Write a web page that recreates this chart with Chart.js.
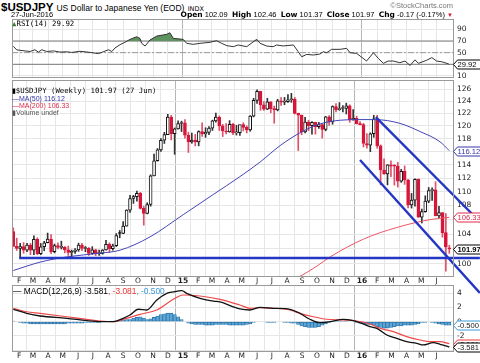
<!DOCTYPE html>
<html>
<head>
<meta charset="utf-8">
<script src="https://cdn.jsdelivr.net/npm/chart.js@4.4.0/dist/chart.umd.min.js"></script>
<style>
  body { margin: 0; background: #fff; width: 480px; height: 363px; overflow: hidden; position: relative; font-family: "Liberation Sans", Arial, sans-serif; }
  canvas { position: absolute; left: 0; }
  .t { position: absolute; white-space: nowrap; color: #000; line-height: 1; }
  .mono { font-family: "DejaVu Sans Mono", monospace; }
  .b { font-family: "DejaVu Sans", sans-serif; font-weight: bold; }
</style>
</head>
<body>
<canvas id="rsi" width="480" height="64" style="top:15px;width:480px;height:64px"></canvas>
<canvas id="price" width="480" height="216" style="top:79px;width:480px;height:216px"></canvas>
<canvas id="macd" width="480" height="79" style="top:284px;width:480px;height:79px"></canvas>

<div class="t" style="left:1px;top:2px;font-size:11.5px;font-weight:bold">$USDJPY <span style="font-size:8.5px;font-weight:normal">US Dollar to Japanese Yen (EOD)</span> <span style="font-size:6.5px;font-weight:normal;font-family:'DejaVu Sans'">INDX</span></div>
<div class="t" style="right:27px;top:2px;font-size:7.5px;color:#777">&copy;StockCharts.com</div>
<div class="t" style="left:11px;top:11px;font-size:7.5px">27-Jun-2016</div>
<div class="t" style="right:27px;top:11px;font-size:7.5px"><span class="b">Open</span> 102.09 &nbsp;<span class="b">High</span> 102.46 &nbsp;<span class="b">Low</span> 101.37 &nbsp;<span class="b">Close</span> 101.97 &nbsp;<span class="b">Chg</span> -0.17 (-0.17%) <span style="color:#d8163a;font-size:6px">&#9660;</span></div>

<div class="t mono" style="left:12px;top:20px;font-size:7.4px"><span style="color:#3c7a3c">&#9650;</span>RSI(14) 29.92</div>

<div class="t mono" style="left:12px;top:87px;font-size:7.3px"><span style="font-family:'DejaVu Sans';font-size:7px">&#9646;</span>$USDJPY (Weekly) 101.97 (27 Jun)</div>
<div class="t" style="left:12px;top:95px;font-size:7px;color:#3535a8">&#8212;MA(50) 116.12</div>
<div class="t" style="left:12px;top:102px;font-size:7px;color:#e02a48">&#8212;MA(200) 106.33</div>
<div class="t" style="left:12px;top:109px;font-size:7px;color:#555">&#9646;Volume undef</div>

<div class="t" style="left:13px;top:287px;font-size:8.4px">&#8212; MACD(12,26,9) -3.581<span style="color:#f03535">, -3.081</span><span style="color:#3a9ad9">, -0.500</span></div>

<script>
// weekly candles, week of 20 Jan 2014 up to week of 27 Jun 2016
const opens = [104.35,102.32,102.04,102.30,101.80,102.50,101.79,103.28,101.32,102.26,
  102.81,103.29,101.61,102.43,102.17,102.18,101.85,101.49,101.63,101.82,
  102.50,102.03,102.05,101.36,101.85,101.33,101.36,101.82,102.59,102.00,
  102.40,104.15,104.07,105.10,107.34,109.00,109.27,109.74,107.60,106.88,
  108.14,112.32,114.59,116.24,117.74,118.62,121.42,118.78,119.53,120.38,
  120.48,118.53,117.49,117.75,117.47,119.11,118.74,118.98,119.64,120.80,
  121.40,120.01,119.19,119.03,120.25,118.90,118.94,120.21,119.75,119.35,
  121.55,124.13,125.60,123.39,122.68,123.86,122.78,122.58,124.03,123.81,
  123.91,124.22,124.33,122.00,121.73,119.03,120.59,120.04,120.56,119.88,
  120.22,119.42,121.45,120.61,123.11,122.60,122.79,122.82,123.23,120.95,
  121.19,120.36,120.21,117.23,116.96,118.76,121.13,116.86,113.20,112.60,
  113.97,113.78,113.77,111.55,113.00,111.70,108.07,108.77,111.80,106.33,
  107.12,108.63,110.15,110.25,106.53,107.00,104.20,102.09];
const highs = [104.85,103.43,102.72,102.83,102.71,102.72,103.76,103.48,102.71,103.00,
  104.13,103.93,102.63,102.80,103.02,102.30,102.36,101.82,102.02,102.75,
  102.72,102.30,102.16,102.27,101.93,101.81,101.89,103.15,102.80,102.63,
  104.06,104.49,105.71,107.39,109.45,109.46,110.09,109.90,107.90,108.39,
  112.47,115.59,116.45,118.00,118.98,121.85,121.69,119.67,120.82,120.75,
  121.00,119.00,118.86,118.66,119.22,120.48,119.70,119.90,120.91,122.03,
  121.58,120.24,120.36,120.84,120.40,120.10,120.05,120.50,120.00,121.64,
  124.46,125.86,125.62,123.90,124.47,123.90,123.20,124.30,124.58,124.60,
  125.07,125.28,124.60,122.05,121.73,121.35,120.90,120.70,120.60,120.55,
  120.30,121.50,121.63,123.23,123.60,123.76,123.25,123.67,123.40,122.63,
  121.55,120.70,120.40,118.80,118.90,121.69,121.69,117.02,114.87,114.00,
  114.58,114.00,114.34,113.30,113.80,111.80,109.74,111.88,111.88,107.49,
  109.39,110.60,110.55,111.45,107.89,107.00,106.84,102.46];
const lows = [102.30,101.77,100.76,101.38,101.60,101.21,101.21,101.20,101.20,101.72,
  102.78,101.32,101.43,101.98,101.96,101.43,101.10,100.82,101.37,101.64,
  101.72,101.60,101.10,101.24,101.07,101.08,101.26,101.80,101.51,101.81,
  102.30,103.48,104.06,105.09,107.00,108.30,108.62,107.50,105.23,106.80,
  107.90,112.30,114.52,116.00,117.24,118.60,117.79,115.57,119.48,119.10,
  118.07,115.85,117.27,116.86,116.87,118.33,118.19,118.60,119.27,120.60,
  119.27,118.32,118.72,119.00,118.60,118.55,118.50,119.20,118.88,119.15,
  121.44,123.60,122.50,122.46,122.60,122.10,120.41,122.40,123.30,123.40,
  123.80,123.80,121.90,116.15,118.60,118.90,119.24,118.70,118.69,119.60,
  118.07,119.22,120.07,120.26,122.23,122.49,122.25,121.90,120.57,120.90,
  120.30,120.15,116.70,116.51,115.97,118.20,116.50,110.98,112.55,110.99,
  112.20,110.95,110.66,111.36,111.06,107.67,107.63,107.89,106.30,105.53,
  107.04,108.40,108.72,106.53,106.25,103.56,99.02,101.37];
const closes = [102.32,102.04,102.30,101.80,102.50,101.79,103.28,101.32,102.26,102.81,
  103.29,101.61,102.43,102.17,102.18,101.85,101.49,101.63,101.82,102.50,
  102.03,102.05,101.36,101.85,101.33,101.36,101.82,102.59,102.00,102.40,
  103.80,104.07,105.10,107.34,109.00,109.27,109.74,107.60,106.88,108.14,
  112.32,114.59,116.24,117.74,118.62,121.42,118.78,119.53,120.38,120.48,
  118.53,117.49,117.75,117.47,119.11,118.74,118.98,119.64,120.80,121.40,
  120.01,119.19,119.03,120.25,118.90,118.94,120.21,119.75,119.35,121.55,
  124.13,125.60,123.39,122.68,123.86,122.78,122.58,124.03,123.81,123.91,
  124.22,124.33,122.00,121.73,119.03,120.59,120.04,120.56,119.88,120.22,
  119.42,121.45,120.61,123.11,122.60,122.79,122.82,123.23,120.95,121.19,
  120.36,120.21,117.23,116.96,118.76,121.13,116.86,113.20,112.60,113.97,
  113.78,113.77,111.55,113.00,111.70,108.07,108.77,111.80,106.33,107.12,
  108.63,110.15,110.25,106.53,107.00,104.20,102.23,101.97];

const monthLabels = ['F','M','A','M','J','J','A','S','O','N','D','15',
  'F','M','A','M','J','J','A','S','O','N','D','16','F','M','A','M','J'];
const priceTicks = [100,102,104,106,108,110,112,114,116,118,120,122,124,126];
const rsiTicks = [10,30,50,70,90];
const macdTicks = [4,2,0,-2,-4];

// moving averages at week positions
const ma50Weeks = [0,7.8,15.6,25.3,31.1,39.8,49.5,58.3,66,71.9,77.7,83.5,89.3,95.2,101,105.4,112.6,118.5,124.3,127];
const ma50Vals = [99.1,100.2,100.9,101.4,101.8,103.6,106.7,109.6,112.2,114.4,116.9,118.9,120.3,120.9,121.0,121.0,120.4,119.1,117.5,116.12];
const ma200Weeks = [80,83,88.5,92.3,102,111.7,121.4,127];
const ma200Vals = [97.6,98.2,99.7,100.9,103.3,104.9,106.0,106.33];

// hand drawn trend lines (week, price)
const supportWeeks = [1.7,135.9];
const supportVals = [100.76,100.76];
const upperWeeks = [105.6,135.9];
const upperVals = [121.4,105.7];
const lowerWeeks = [101,135.9];
const lowerVals = [114.7,96.2];

// RSI(14)
const rsiWeeks = [0,1,3.4,4.9,6.3,7.3,8.3,9.7,11.7,13.6,15.6,17,19.4,21.4,23.3,24.8,26.2,27.7,28.7,29.6,
  31.1,32.5,34,35.9,36.9,37.4,38.4,39.8,41.8,44.7,45.6,46.6,49.5,50.5,52.4,54.4,57.3,59.2,60.7,62.2,
  64.1,65.5,68,70.9,71.9,73.8,75.7,76.7,78.6,81.6,83,84,85.5,87.4,89.3,90.3,91.3,92.7,95.2,97.1,
  98.1,100,101.9,102.9,104.9,106.3,107.8,109.2,110.7,112.6,114.1,115.6,117,118,120.4,121.9,123.3,124.8,126.7,127];
const rsiVals = [61,54.8,53,52,55,51,55,52,53,51,51.5,50.4,52.3,51.2,49.6,48.3,51.5,55,52,58,
  63.7,67.8,72.8,77.3,74.5,66,61.4,71.7,78.5,81.5,84.2,74.6,72.8,66,64.3,66,67.8,70.5,66,62,
  60.3,63.2,60.3,72.9,66,61.4,60.3,63.2,61.5,63.2,51.6,43,47,45.9,47.6,51.6,49.9,55.7,55.7,57.4,
  49.9,48.7,40.3,35.6,49.9,40.3,31.7,35.6,35.6,32.8,35.6,28,37.7,31.7,36.9,41.5,35.6,34.4,30.8,29.92];

// MACD(12,26,9)
const macdWeeks = [0,3.9,7.8,15.6,21.4,25.3,29.1,32,34,36.4,38.9,41.8,44.7,46.6,49.1,50.5,54.4,58.3,60.2,64.1,
  66,68.9,71.9,75.7,80.6,83.5,86.4,89.3,92.2,96.1,99,101.9,103.9,105.9,108.8,111.7,114.6,117.5,119.4,122.3,124.3,126.7,127];
const macdVals = [1.75,1.18,0.8,0.48,0.14,0,0,0.48,0.94,1.75,1.65,3.06,4.0,4.2,4.37,4.0,3.3,2.9,2.8,2.1,
  1.8,1.65,2.03,1.89,1.75,1.18,0.34,-0.14,0,0.34,0.14,-0.32,-0.7,-0.93,-1.87,-2.34,-2.82,-3.04,-3.28,-2.96,-3.18,-3.5,-3.581];
const signalWeeks = [0,3.9,7.8,15.6,21.4,25.3,29.1,32.9,36.9,41.8,46.6,49.5,54.4,60.2,66,68.9,71.9,75.7,80.6,83.5,
  87.4,91.3,96.1,100,103.9,106.8,110.7,114.6,118.5,121.4,124.3,127];
const signalVals = [1.9,1.4,1.18,0.7,0.33,0.1,0,0.47,1.04,1.65,3.15,3.76,3.62,3.15,2.35,1.89,1.97,1.89,1.65,1.18,
  0.7,0.34,0.24,0.1,-0.32,-0.93,-1.41,-2.11,-2.58,-2.82,-2.82,-3.081];
const histVals = [0.1,0.0,-0.1,-0.2,-0.2,-0.3,-0.3,-0.3,-0.3,-0.3,
  -0.3,-0.3,-0.3,-0.3,-0.3,-0.3,-0.2,-0.2,-0.2,-0.2,
  -0.2,-0.1,-0.1,-0.1,-0.1,-0.1,0.0,0.0,0.0,0.1,
  0.1,0.2,0.2,0.3,0.3,0.5,0.6,0.7,0.5,0.3,
  0.4,0.6,0.8,1.0,1.1,1.2,1.2,1.0,0.7,0.3,
  0.0,-0.2,-0.3,-0.4,-0.4,-0.4,-0.5,-0.5,-0.5,-0.4,
  -0.4,-0.4,-0.4,-0.5,-0.5,-0.5,-0.5,-0.5,-0.4,-0.3,
  -0.1,0.0,0.0,0.0,-0.1,-0.1,-0.1,0.0,0.0,-0.1,
  -0.1,-0.2,-0.2,-0.4,-0.6,-0.7,-0.8,-0.8,-0.8,-0.7,
  -0.5,-0.3,-0.1,0.0,0.1,0.1,0.1,0.1,0.0,0.0,
  -0.1,-0.2,-0.3,-0.4,-0.4,-0.5,-0.7,-0.8,-0.9,-0.9,
  -0.8,-0.7,-0.6,-0.6,-0.5,-0.5,-0.5,-0.4,-0.3,-0.1,
  -0.1,0.0,-0.1,-0.2,-0.3,-0.4,-0.5,-0.5];

const lastClose = 101.97, ma50Last = 116.12, ma200Last = 106.33;
const rsiLast = 29.92, macdLast = -3.581, signalLast = -3.081, histLast = -0.500;

// ---- layout helpers ----
const weekStart = Date.UTC(2014, 0, 20);
const monthPos = monthLabels.map((l, i) => (Date.UTC(2014, 1 + i, 1) - weekStart) / (7 * 864e5));
const X_MIN = -0.38, X_MAX = 128.08;
const tickFont = { family: 'DejaVu Sans', size: 7.5 };

function pts(xs, ys) { return xs.map((x, i) => ({ x: x, y: ys[i] })); }

function xAxis(showLabels, h) {
  return {
    type: 'linear', min: X_MIN, max: X_MAX, offset: false,
    afterBuildTicks: s => { s.ticks = monthPos.map(v => ({ value: v })); },
    afterFit: s => { s.height = h; s.paddingLeft = 0; s.paddingRight = 0; },
    grid: {
      drawTicks: false,
      color: c => (c.tick && /^1/.test(monthLabels[c.index])) ? '#b5b5b5' : '#e6e6e6'
    },
    border: { display: false },
    ticks: {
      display: showLabels, autoSkip: false, maxRotation: 0, padding: 1, color: '#222',
      callback: (v, i) => monthLabels[i],
      font: c => ({ family: 'DejaVu Sans', size: 7.5, weight: /^1/.test(monthLabels[c.index]) ? 'bold' : 'normal' })
    }
  };
}

function yAxis(type, min, max, ticks) {
  return {
    type: type, position: 'right', min: min, max: max,
    afterBuildTicks: s => { s.ticks = ticks.map(v => ({ value: v })); },
    afterFit: s => { s.width = 27; s.paddingTop = 0; s.paddingBottom = 0; },
    grid: { drawTicks: false, color: '#e6e6e6' },
    border: { display: false },
    ticks: { padding: 4, color: '#222', font: tickFont, callback: v => String(v) }
  };
}

// panel frame + value tags on the right edge
function panelPlugin(tags) {
  return {
    id: 'panel',
    afterDraw(chart) {
      const ctx = chart.ctx, a = chart.chartArea, ys = chart.scales.y;
      ctx.save();
      ctx.strokeStyle = '#9a9a9a';
      ctx.lineWidth = 1;
      ctx.strokeRect(Math.round(a.left) + 0.5, Math.round(a.top) + 0.5, Math.round(a.right - a.left), Math.round(a.bottom - a.top));
      tags.forEach(t => {
        const y = Math.round(ys.getPixelForValue(t.v)) + 0.5;
        const x = Math.round(a.right) + 0.5;
        ctx.beginPath();
        ctx.moveTo(x, y);
        ctx.lineTo(x + 4, y - 4.5);
        ctx.lineTo(481, y - 4.5);
        ctx.lineTo(481, y + 4.5);
        ctx.lineTo(x + 4, y + 4.5);
        ctx.closePath();
        ctx.fillStyle = '#fff';
        ctx.fill();
        ctx.strokeStyle = t.c;
        ctx.stroke();
        ctx.fillStyle = t.tc || t.c;
        ctx.font = (t.bold ? 'bold ' : '') + '7.6px "Liberation Sans"';
        ctx.textBaseline = 'middle';
        ctx.fillText(t.text, x + 4, y + 0.5);
      });
      ctx.restore();
    }
  };
}

const base = {
  responsive: false, animation: false, events: [],
  plugins: { legend: { display: false }, tooltip: { enabled: false } }
};

// ---- RSI panel ----
new Chart(document.getElementById('rsi'), {
  type: 'line',
  data: {
    datasets: [
      { data: pts(rsiWeeks, rsiVals), borderColor: '#333', borderWidth: 1, pointRadius: 0,
        fill: { target: { value: 70 }, above: '#5e925e', below: 'rgba(0,0,0,0)' } },
      { data: pts([X_MIN, X_MAX], [70, 70]), borderColor: '#7a7a7a', borderWidth: 1, pointRadius: 0 },
      { data: pts([X_MIN, X_MAX], [30, 30]), borderColor: '#7a7a7a', borderWidth: 1, pointRadius: 0 },
      { data: pts([X_MIN, X_MAX], [50, 50]), borderColor: '#9a9a9a', borderWidth: 1, pointRadius: 0, borderDash: [6, 2, 2, 2] }
    ]
  },
  options: Object.assign({}, base, {
    layout: { padding: { left: 12, right: 0, top: 4, bottom: 2 } },
    scales: { x: xAxis(false, 0), y: yAxis('linear', 8.2, 107.8, rsiTicks) }
  }),
  plugins: [panelPlugin([{ v: rsiLast, text: rsiLast.toFixed(2), c: '#000' }])]
});

// ---- price panel ----
const up = closes.map((c, i) => c >= (i ? closes[i - 1] : opens[i]));
const hollow = closes.map((c, i) => c >= opens[i]);
const RED = '#d8163a';
const weeks = closes.map((c, i) => i);

new Chart(document.getElementById('price'), {
  type: 'bar',
  data: {
    datasets: [
      { type: 'line', data: pts(supportWeeks, supportVals), borderColor: '#2436c4', borderWidth: 2.4, pointRadius: 0, clip: false },
      { type: 'line', data: pts(upperWeeks, upperVals), borderColor: '#2436c4', borderWidth: 2.4, pointRadius: 0, clip: false },
      { type: 'line', data: pts(lowerWeeks, lowerVals), borderColor: '#2436c4', borderWidth: 2.4, pointRadius: 0, clip: false },
      { type: 'line', data: pts(ma50Weeks, ma50Vals), borderColor: '#4444b8', borderWidth: 1, pointRadius: 0, cubicInterpolationMode: 'monotone' },
      { type: 'line', data: pts(ma200Weeks, ma200Vals), borderColor: '#ee5565', borderWidth: 1, pointRadius: 0, cubicInterpolationMode: 'monotone' },
      { data: weeks.map(i => ({ x: i, y: [opens[i], closes[i]] })), grouped: false, barThickness: 3, minBarLength: 1,
        borderSkipped: false, borderWidth: 1,
        borderColor: weeks.map(i => up[i] ? '#111' : RED),
        backgroundColor: weeks.map(i => hollow[i] ? '#fff' : (up[i] ? '#111' : RED)) },
      { data: weeks.map(i => ({ x: i, y: [lows[i], highs[i]] })), grouped: false, barThickness: 1,
        borderWidth: 0, backgroundColor: weeks.map(i => up[i] ? '#333' : '#e0506a') }
    ]
  },
  options: Object.assign({}, base, {
    layout: { padding: { left: 12, right: 0, top: 1, bottom: 0 } },
    scales: { x: xAxis(true, 19), y: yAxis('logarithmic', 98.38, 127.51, priceTicks) }
  }),
  plugins: [panelPlugin([
    { v: ma50Last, text: ma50Last.toFixed(2), c: '#3535a8' },
    { v: ma200Last, text: ma200Last.toFixed(2), c: '#e02a48' },
    { v: lastClose, text: lastClose.toFixed(2), c: '#000', bold: true }
  ])]
});

// ---- MACD panel ----
new Chart(document.getElementById('macd'), {
  type: 'bar',
  data: {
    datasets: [
      { type: 'line', data: pts(macdWeeks, macdVals), borderColor: '#111', borderWidth: 1.3, pointRadius: 0, cubicInterpolationMode: 'monotone' },
      { type: 'line', data: pts(signalWeeks, signalVals), borderColor: '#f04848', borderWidth: 1.2, pointRadius: 0, cubicInterpolationMode: 'monotone' },
      { data: histVals.map((v, i) => ({ x: i, y: v })), grouped: false, barThickness: 3.4,
        backgroundColor: '#5ea6d6', borderColor: '#2a74aa', borderWidth: 0.8, borderSkipped: false }
    ]
  },
  options: Object.assign({}, base, {
    layout: { padding: { left: 12, right: 0, top: 1, bottom: 0 } },
    scales: { x: xAxis(true, 12), y: yAxis('linear', -4.13, 5.17, macdTicks) }
  }),
  plugins: [panelPlugin([
    { v: histLast, text: histLast.toFixed(3), c: '#3a9ad9', tc: '#222' },
    { v: signalLast, text: signalLast.toFixed(3), c: '#f03535', tc: '#222' },
    { v: macdLast, text: macdLast.toFixed(3), c: '#000', tc: '#222' }
  ])]
});
</script>
</body>
</html>
